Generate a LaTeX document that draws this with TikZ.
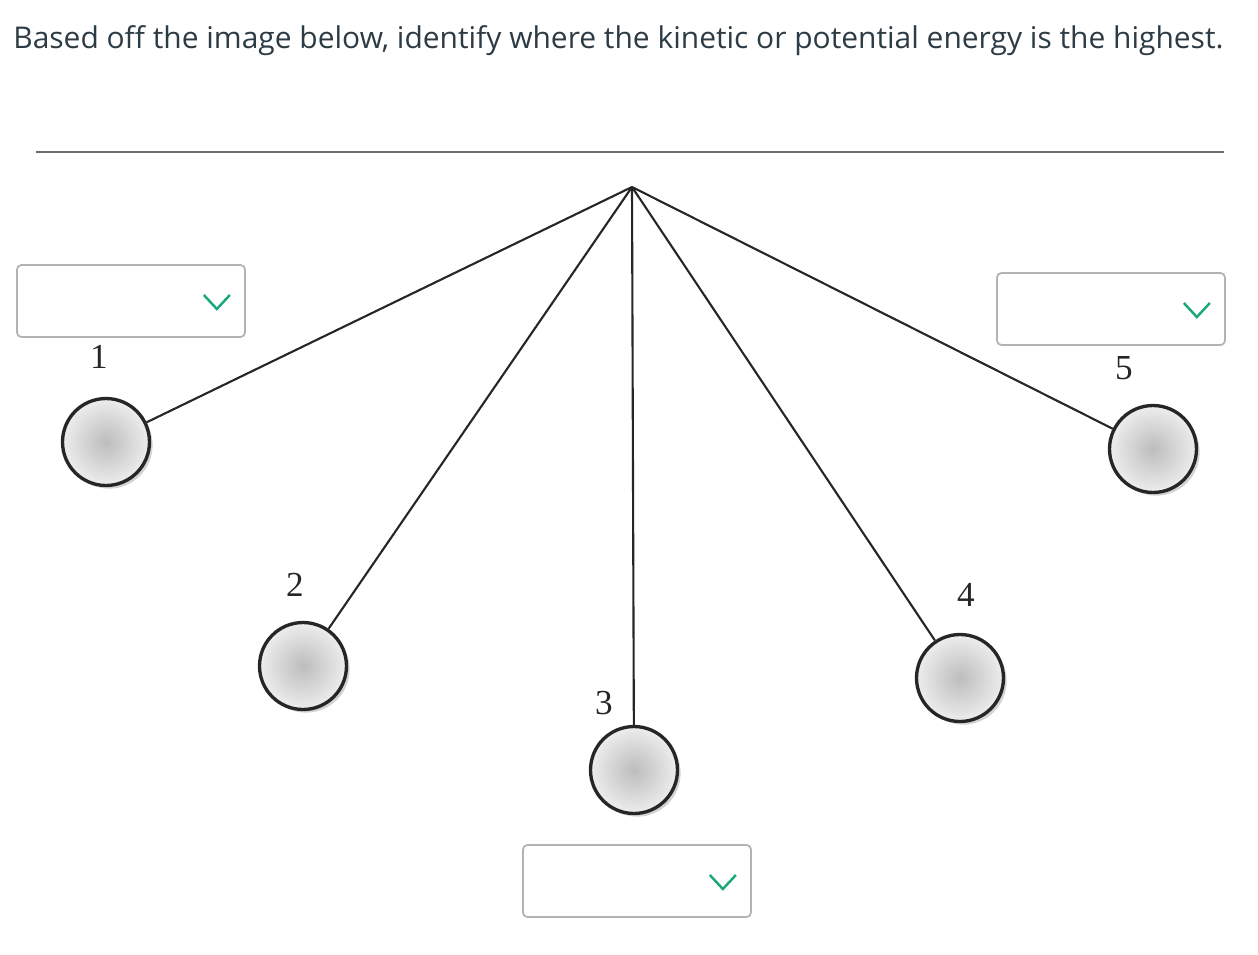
\documentclass[tikz,border=0pt]{standalone}
\usepackage{fontspec}
\setmainfont{Liberation Serif}
\newfontfamily\titlefont{Open Sans}
\usetikzlibrary{shadows}
\definecolor{textslate}{HTML}{2D3B45}
\definecolor{chevgreen}{HTML}{1BA77D}
\definecolor{boxgray}{HTML}{B3B3B3}

\begin{document}
\begin{tikzpicture}[x=0.02cm, y=-0.02cm,
    ball/.style={circle, draw=black!85, line width=1.9pt, minimum size=1.74cm,
      inner sep=0pt, inner color=gray!52, outer color=gray!14,
      drop shadow={shadow xshift=1.8pt, shadow yshift=-1.8pt, opacity=0.35}},
    string/.style={line width=1.2pt, black!85},
    num/.style={font=\fontsize{20}{21}\selectfont, text=black!85, inner sep=0pt},
    dropbox/.style={draw=boxgray, line width=1pt, rounded corners=2.5pt,
      minimum width=4.56cm, minimum height=1.44cm, fill=white},
    chevron/.style={chevgreen, line width=1.4pt}]
    \useasboundingbox (0,0) rectangle (1258,954);
    % question
    \node[anchor=base west, inner sep=0pt, text=textslate,
      font=\titlefont\fontsize{17.05}{20}\selectfont] (question) at (13,48)
      {Based off the image below, identify where the kinetic or potential energy is the highest.};
    % ceiling and pivot
    \draw[gray!85!black, line width=1.1pt] (36,152) -- (1224,152);
    \coordinate (top) at (632,187);
    % pendulum positions
    \foreach \n/\x/\y in {1/106/442, 2/303/666, 3/634/770, 4/960/678, 5/1153/449}
    {
    \node[ball] (b\n) at (\x,\y) {};
    \draw[string] (top) -- (b\n);
    }
    % numbers
    \foreach \n/\x/\y in {1/99/357, 2/295/585, 3/604/703, 4/966/595, 5/1124/368}
    {
    \node[num] (l\n) at (\x,\y) {\n};
    }
    % answer boxes
    \foreach \n/\x/\y in {1/131/301, 3/637/881, 5/1111/309}
    {
    \node[dropbox] (d\n) at (\x,\y) {};
    \draw[chevron] ([shift={(-42,-6)}]d\n.east) -- ++(13,14) -- ++(13,-14);
    }
\end{tikzpicture}
\end{document}
